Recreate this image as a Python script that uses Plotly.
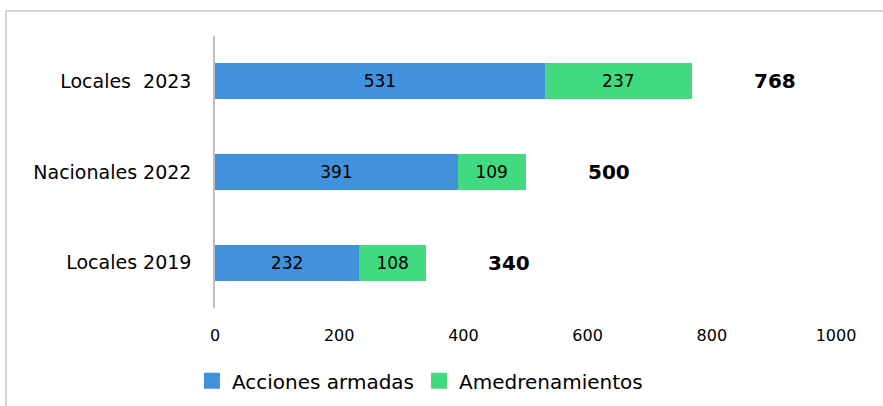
import plotly.graph_objects as go

# Data
categories = ["Locales 2019", "Nacionales 2022", "Locales\u00a0 2023"]
acciones_armadas = [232, 391, 531]
amedrenamientos = [108, 109, 237]
totales = [a + b for a, b in zip(acciones_armadas, amedrenamientos)]
x_ticks = [0, 200, 400, 600, 800, 1000]

FONT = "DejaVu Sans"
BLUE = "#4191dc"
GREEN = "#41da80"

fig = go.Figure()

fig.add_trace(go.Bar(
    y=categories, x=acciones_armadas, orientation="h",
    name="Acciones armadas", marker=dict(color=BLUE, line=dict(width=0)),
    text=acciones_armadas, textposition="inside", insidetextanchor="middle",
    textfont=dict(color="black", size=17, family=FONT), showlegend=False,
))
fig.add_trace(go.Bar(
    y=categories, x=amedrenamientos, orientation="h",
    name="Amedrenamientos", marker=dict(color=GREEN, line=dict(width=0)),
    text=amedrenamientos, textposition="inside", insidetextanchor="middle",
    textfont=dict(color="black", size=17, family=FONT), showlegend=False,
))

# legend entries with bigger square swatches
for name, col in [("Acciones armadas", BLUE), ("Amedrenamientos", GREEN)]:
    fig.add_trace(go.Scatter(x=[None], y=[None], mode="markers", name=name,
                             marker=dict(symbol="square", size=17, color=col)))

# Totals, bold, to the right of each bar
for cat, tot in zip(categories, totales):
    fig.add_annotation(
        x=tot, y=cat, text="<b>%d</b>" % tot, showarrow=False,
        xanchor="left", xshift=60, font=dict(size=20, color="black", family=FONT),
    )

# light grey frame around the chart
fig.add_shape(type="rect", xref="paper", yref="paper",
              x0=-0.3366, x1=1.2, y0=-0.5, y1=1.092,
              line=dict(color="#c8c8c8", width=1.5), fillcolor="rgba(0,0,0,0)")

fig.update_layout(
    barmode="stack",
    bargap=0.6,
    width=883, height=406,
    margin=dict(l=215, r=47, t=36, b=98),
    paper_bgcolor="white", plot_bgcolor="white",
    font=dict(family=FONT, size=17, color="black"),
    showlegend=True,
    legend=dict(orientation="h", x=0.33, y=0.11, yref="container",
                xanchor="center", yanchor="top",
                font=dict(size=20), traceorder="normal", itemwidth=30,
                tracegroupgap=0),
    xaxis=dict(range=[0, 1000], tickvals=x_ticks, showgrid=False, zeroline=False,
               showline=False, ticks="", ticklabelstandoff=16,
               tickfont=dict(size=16)),
    yaxis=dict(showgrid=False, zeroline=False, showline=True, linecolor="#bfbfbf",
               linewidth=1.5, ticks="", ticklabelstandoff=18,
               tickfont=dict(size=19)),
)

fig.write_html("out.html", config={"displayModeBar": False},
               post_script="document.body.style.margin='0';")
